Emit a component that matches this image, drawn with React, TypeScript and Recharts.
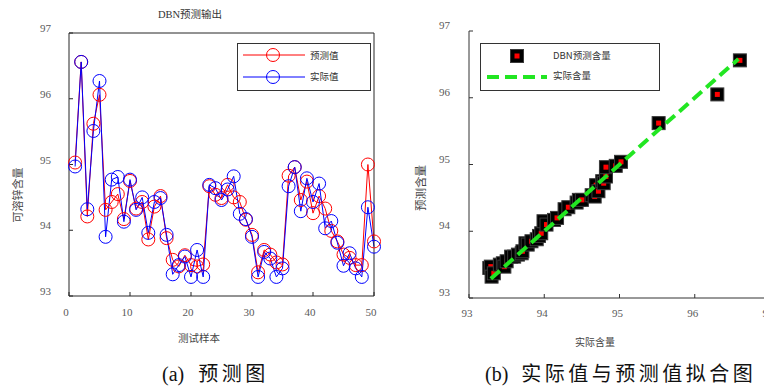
import React from 'react'
import {
  ComposedChart,
  Line,
  XAxis,
  YAxis,
  ScatterChart,
  Scatter,
  Legend,
} from 'recharts'

// test sample index (1..50)
const sampleNo = Array.from({ length: 50 }, (_, k) => k + 1)

// DBN predicted values (red)
const predicted = [
  95.03, 96.56, 94.21, 95.62, 96.06, 94.31, 94.43, 94.55, 94.17, 94.75,
  94.33, 94.43, 93.86, 94.36, 94.52, 93.88, 93.55, 93.45, 93.62, 93.47,
  93.45, 93.48, 94.67, 94.54, 94.49, 94.69, 94.5, 94.43, 94.16, 93.93,
  93.36, 93.7, 93.63, 93.51, 93.48, 94.83, 94.96, 94.46, 94.74, 94.26,
  94.52, 94.33, 93.99, 93.83, 93.63, 93.58, 93.47, 93.47, 95.0, 93.83,
]

// actual values (blue)
const actual = [
  94.97, 96.56, 94.32, 95.51, 96.27, 93.9, 94.77, 94.81, 94.13, 94.77,
  94.31, 94.5, 93.96, 94.43, 94.49, 93.93, 93.33, 93.47, 93.6, 93.29,
  93.7, 93.29, 94.69, 94.64, 94.46, 94.62, 94.82, 94.25, 94.17, 93.9,
  93.29, 93.67, 93.57, 93.29, 93.42, 94.67, 94.96, 94.29, 94.79, 94.43,
  94.71, 94.03, 94.14, 93.81, 93.46, 93.65, 93.42, 93.29, 94.35, 93.75,
]

// fit plot (b): actual content vs predicted content
const fitActual = [
  93.27, 93.29, 93.3, 93.33, 93.41, 93.45, 93.47, 93.5, 93.56, 93.6,
  93.65, 93.7, 93.71, 93.75, 93.78, 93.83, 93.9, 93.93, 93.96, 93.99,
  94.03, 94.13, 94.17, 94.27, 94.32, 94.43, 94.46, 94.5, 94.63, 94.67,
  94.69, 94.72, 94.77, 94.79, 94.82, 94.82, 94.95, 95.02, 95.52, 96.3,
  96.6,
]
const fitPredicted = [
  93.45, 93.47, 93.32, 93.37, 93.5, 93.52, 93.47, 93.55, 93.62, 93.62,
  93.65, 93.67, 93.7, 93.82, 93.8, 93.85, 93.88, 93.93, 93.97, 94.15,
  94.1, 94.17, 94.2, 94.33, 94.36, 94.43, 94.47, 94.47, 94.54, 94.52,
  94.69, 94.6, 94.75, 94.72, 94.82, 94.96, 94.98, 95.04, 95.62, 96.05,
  96.56,
]

// ideal line endpoints
const idealLine = [93.29, 96.58]

const xTicksA = [0, 10, 20, 30, 40, 50]
const yTicks = [93, 94, 95, 96, 97]

const seriesData = sampleNo.map((i, k) => ({
  i,
  pred: predicted[k],
  actual: actual[k],
}))
const fitData = fitActual.map((x, k) => ({ x, y: fitPredicted[k] }))
const lineData = idealLine.map((v) => ({ x: v, y: v }))

const FONT = '"Liberation Serif", "Noto Sans CJK SC", serif'
const CJK = '"Noto Sans CJK SC", "Liberation Serif", serif'
const TICK_COLOR = '#5a5a5a'

const makeXTick = (dy: number, dx: number) => (props: any) => (
  <text
    x={props.x + dx}
    y={props.y + dy}
    textAnchor="middle"
    dominantBaseline="central"
    fontFamily={FONT}
    fontSize={11}
    fill={TICK_COLOR}
  >
    {props.payload.value}
  </text>
)

const makeYTick = (dx: number, dy: number) => (props: any) => (
  <text
    x={props.x + dx}
    y={props.y + dy}
    textAnchor="end"
    dominantBaseline="central"
    fontFamily={FONT}
    fontSize={11}
    fill={TICK_COLOR}
  >
    {props.payload.value}
  </text>
)

const SquareDot = (props: any) => {
  const { cx, cy } = props
  if (cx == null || cy == null) return <g />
  return (
    <g>
      <rect x={cx - 6.5} y={cy - 6.5} width={13} height={13} fill="#000" stroke="#3a3a3a" strokeWidth={1} />
      <rect x={cx - 2.5} y={cy - 2.5} width={5} height={5} fill="#ff0000" />
    </g>
  )
}

const legendText = {
  fontFamily: CJK,
  fontSize: 9.5,
  fill: '#333',
}

const LegendA = () => (
  <svg width={134} height={48} style={{ display: 'block' }}>
    <rect x={0.5} y={0.5} width={133} height={47} fill="#fff" stroke="#333" />
    <line x1={6} y1={12} x2={68} y2={12} stroke="#ff0000" />
    <circle cx={36} cy={12} r={6.5} fill="none" stroke="#ff0000" />
    <text x={73} y={12} dominantBaseline="central" {...legendText}>预测值</text>
    <line x1={6} y1={34} x2={68} y2={34} stroke="#0000ff" />
    <circle cx={36} cy={34} r={6.5} fill="none" stroke="#0000ff" />
    <text x={73} y={33} dominantBaseline="central" {...legendText}>实际值</text>
  </svg>
)

const LegendB = () => (
  <svg width={180} height={48} style={{ display: 'block' }}>
    <rect x={0.5} y={0.5} width={179} height={47} fill="#fff" stroke="#333" />
    <rect x={30.5} y={6.5} width={13} height={13} fill="#000" stroke="#3a3a3a" />
    <rect x={34.5} y={10.5} width={5} height={5} fill="#ff0000" />
    <text x={73} y={12} dominantBaseline="central" {...legendText}>DBN预测含量</text>
    <line x1={7} y1={34} x2={67} y2={34} stroke="#22e622" strokeWidth={4} strokeDasharray="12 6" />
    <text x={73} y={32} dominantBaseline="central" {...legendText}>实际含量</text>
  </svg>
)

const abs = (left: number, top: number, extra: React.CSSProperties = {}): React.CSSProperties => ({
  position: 'absolute',
  left,
  top,
  whiteSpace: 'nowrap',
  ...extra,
})

export default function App() {
  return (
    <div
      style={{
        position: 'absolute',
        left: 0,
        top: 0,
        width: 764,
        height: 387,
        overflow: 'hidden',
        background: '#fff',
        fontFamily: FONT,
      }}
    >
      {/* (a) prediction plot */}
      <div style={abs(0, 0)}>
        <ComposedChart
          width={400}
          height={330}
          data={seriesData}
          margin={{ top: 13, right: 6, bottom: 4, left: 39 }}
        >
          <XAxis
            dataKey="i"
            type="number"
            domain={[0, 50]}
            ticks={xTicksA}
            height={30}
            tickSize={-4}
            tickMargin={0}
            stroke="#262626"
            tick={makeXTick(20, -3)}
          />
          <XAxis
            xAxisId="top"
            orientation="top"
            type="number"
            domain={[0, 50]}
            ticks={xTicksA}
            height={20}
            tickSize={-4}
            stroke="#262626"
            tick={false}
          />
          <YAxis
            type="number"
            domain={[93, 97]}
            ticks={yTicks}
            width={30}
            tickSize={-4}
            tickMargin={0}
            stroke="#262626"
            tick={makeYTick(-22, -5)}
          />
          <YAxis
            yAxisId="right"
            orientation="right"
            type="number"
            domain={[93, 97]}
            ticks={yTicks}
            width={20}
            tickSize={-4}
            stroke="#262626"
            tick={false}
          />
          <Line
            dataKey="pred"
            stroke="#ff0000"
            strokeWidth={1}
            dot={{ r: 6.5, stroke: '#ff0000', fill: 'none', strokeWidth: 1 }}
            isAnimationActive={false}
          />
          <Line
            dataKey="actual"
            stroke="#0000ff"
            strokeWidth={1}
            dot={{ r: 6.5, stroke: '#0000ff', fill: 'none', strokeWidth: 1 }}
            isAnimationActive={false}
          />
          <Legend
            layout="vertical"
            align="center"
            verticalAlign="middle"
            wrapperStyle={{ left: 237, top: 43, width: 134, height: 48 }}
            content={() => <LegendA />}
          />
        </ComposedChart>
      </div>

      {/* (b) fit plot */}
      <div style={abs(400, 0)}>
        <ScatterChart
          width={380}
          height={330}
          margin={{ top: 31, right: 10, bottom: 2, left: 39 }}
        >
          <XAxis
            dataKey="x"
            type="number"
            domain={[93, 97]}
            ticks={yTicks}
            height={30}
            tickSize={-4}
            tickMargin={0}
            stroke="#333"
            tick={makeXTick(19, -2)}
          />
          <YAxis
            dataKey="y"
            type="number"
            domain={[93, 97]}
            ticks={yTicks}
            width={30}
            tickSize={-4}
            tickMargin={0}
            stroke="#333"
            tick={makeYTick(-23, -6)}
          />
          <Scatter data={fitData} shape={SquareDot} isAnimationActive={false} />
          <Scatter
            data={lineData}
            line={{ stroke: '#22e622', strokeWidth: 4, strokeDasharray: '12 6' }}
            shape={() => <g />}
            isAnimationActive={false}
          />
          <Legend
            layout="vertical"
            align="center"
            verticalAlign="middle"
            wrapperStyle={{ left: 80, top: 43, width: 180, height: 48 }}
            content={() => <LegendB />}
          />
        </ScatterChart>
      </div>

      {/* titles and axis labels */}
      <div style={abs(190, 13, { transform: 'translate(-50%, -50%)', fontSize: 10.5, color: '#333' })}>
        DBN<span style={{ fontFamily: CJK }}>预测输出</span>
      </div>
      <div style={abs(17, 195, { transform: 'translate(-50%, -50%) rotate(-90deg)', fontSize: 11, color: '#444', fontFamily: CJK })}>
        可溶锌含量
      </div>
      <div style={abs(199, 337, { transform: 'translate(-50%, -50%)', fontSize: 10.5, color: '#444', fontFamily: CJK })}>
        测试样本
      </div>
      <div style={abs(420, 188, { transform: 'translate(-50%, -50%) rotate(-90deg)', fontSize: 11.5, color: '#444', fontFamily: CJK })}>
        预测含量
      </div>
      <div style={abs(595, 341, { transform: 'translate(-50%, -50%)', fontSize: 10, color: '#444', fontFamily: CJK })}>
        实际含量
      </div>

      {/* captions */}
      <div style={abs(162, 361, { fontSize: 20, lineHeight: '24px', color: '#111' })}>
        (a)
        <span style={{ fontFamily: CJK, marginLeft: 14, letterSpacing: 3.5 }}>预测图</span>
      </div>
      <div style={abs(485, 361, { fontSize: 20, lineHeight: '24px', color: '#111' })}>
        (b)
        <span style={{ fontFamily: CJK, marginLeft: 13, letterSpacing: 3.5 }}>实际值与预测值拟合图</span>
      </div>
    </div>
  )
}
